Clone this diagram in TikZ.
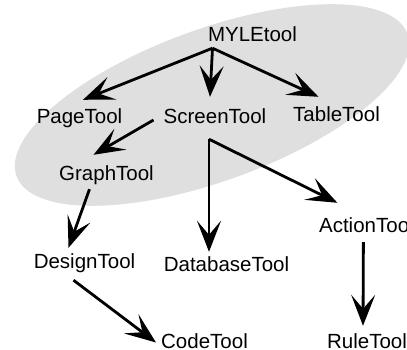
\documentclass[tikz,border=0pt]{standalone}
\usepackage{fontspec}
\setmainfont{Liberation Sans}
\usetikzlibrary{arrows.meta}

\tikzset{
  tool/.style={font=\fontsize{20.5}{24}\selectfont, inner sep=0pt,
    text height=15pt, text depth=4pt, anchor=base},
  link/.style={->, line width=2.8pt},
}

\begin{document}
\begin{tikzpicture}[x=1pt, y=-1pt, >={Stealth[length=31pt,width=24pt,inset=14pt]}]
\useasboundingbox (0,0) rectangle (407,350);
% the shaded group
\fill[gray!25, rotate around={20:(212,105)}] (212,105) ellipse [x radius=208pt, y radius=76pt];

\node[tool] (myle)     at (252.5,42) {MYLEtool};
\node[tool] (page)     at (79.5,124) {PageTool};
\node[tool] (screen)   at (215,124)  {ScreenTool};
\node[tool] (table)    at (336.5,122) {TableTool};
\node[tool] (graph)    at (106.5,180) {GraphTool};
\node[tool] (design)   at (84.5,268) {DesignTool};
\node[tool] (database) at (226.5,271) {DatabaseTool};
\node[tool] (action)   at (366.4,232) {ActionTool};
\node[tool] (code)     at (204.5,348) {CodeTool};
\node[tool] (rule)     at (367,348)  {RuleTool};

\coordinate (root) at ([xshift=-40pt,yshift=-2pt]myle.south);
\coordinate (fork) at ([xshift=-6pt,yshift=-11pt]screen.south);

\draw[link] (root) -- ([xshift=3.5pt,yshift=9pt]page.north);
\draw[link] (root) -- ([xshift=-5pt,yshift=12pt]screen.north);
\draw[link] (root) -- ([xshift=-18pt,yshift=10pt]table.north);
\draw[link] ([xshift=-10pt,yshift=-1.5pt]screen.west) -- ([xshift=-13pt,yshift=10pt]graph.north);
\draw[link] (fork) -- ([xshift=-17.5pt,yshift=4pt]database.north);
\draw[link] (fork) -- ([xshift=-29pt,yshift=14pt]action.north);
\draw[link] ([xshift=-17pt,yshift=-5pt]graph.south) -- ([xshift=-16pt,yshift=5pt]design.north);
\draw[link] ([xshift=-11pt,yshift=-8pt]design.south) -- ([xshift=-5pt]code.west);
\draw[link] ([xshift=-3pt,yshift=-6pt]action.south) -- ([xshift=-4pt,yshift=7pt]rule.north);
\end{tikzpicture}
\end{document}
